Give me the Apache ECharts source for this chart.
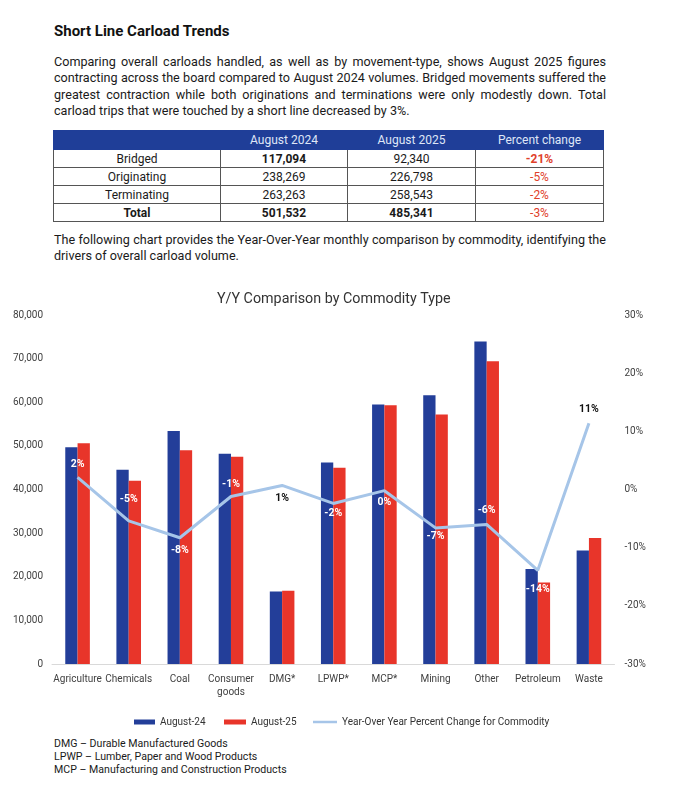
<!DOCTYPE html>
<html>
<head>
<meta charset="utf-8">
<script src="https://cdn.jsdelivr.net/npm/echarts@6/dist/echarts.min.js"></script>
<style>
  html, body { margin: 0; padding: 0; background: #fff; }
  body { width: 694px; height: 793px; position: relative; overflow: hidden; font-family: Roboto, "Liberation Sans", Arial, sans-serif; color: #1a1a1a; }
  .abs { position: absolute; }
  #title { left: 54px; top: 22px; font-size: 15px; font-weight: 700; color: #111; }
  .para { left: 54px; width: 552px; font-size: 12.6px; line-height: 16.3px; }
  .para .j { text-align: justify; text-align-last: justify; }
  table { position: absolute; left: 53px; top: 130px; border-collapse: collapse; font-size: 12px; }
  td, th { border: 1px solid #555; padding: 0; text-align: center; height: 17px; line-height: 16px; }
  th { background: #1f3e98; color: #dfe6f7; font-weight: 400; height: 18px; border-color: #1f3e98; }
  .red { color: #e0402a; }
  .b { font-weight: 700; }
  #chart { position: absolute; left: 0; top: 280px; width: 694px; height: 455px; }
  #notes { left: 54px; top: 737px; font-size: 10.6px; line-height: 13.2px; color: #1a1a1a; }
</style>
</head>
<body>
<div id="title" class="abs">Short Line Carload Trends</div>
<div class="abs para" style="top:54px;">
  <div class="j">Comparing overall carloads handled, as well as by movement-type, shows August 2025 figures</div>
  <div class="j">contracting across the board compared to August 2024 volumes. Bridged movements suffered the</div>
  <div class="j">greatest contraction while both originations and terminations were only modestly down. Total</div>
  <div>carload trips that were touched by a short line decreased by 3%.</div>
</div>
<table>
  <tr><th style="width:166px;"></th><th style="width:126px;">August 2024</th><th style="width:127px;">August 2025</th><th style="width:127px;">Percent change</th></tr>
  <tr><td>Bridged</td><td class="b">117,094</td><td>92,340</td><td class="red b">-21%</td></tr>
  <tr><td>Originating</td><td>238,269</td><td>226,798</td><td class="red">-5%</td></tr>
  <tr><td>Terminating</td><td>263,263</td><td>258,543</td><td class="red">-2%</td></tr>
  <tr><td class="b">Total</td><td class="b">501,532</td><td class="b">485,341</td><td class="red">-3%</td></tr>
</table>
<div class="abs para" style="top:232px;">
  <div class="j">The following chart provides the Year-Over-Year monthly comparison by commodity, identifying the</div>
  <div>drivers of overall carload volume.</div>
</div>
<div id="chart"></div>
<div id="notes" class="abs">
  <div>DMG – Durable Manufactured Goods</div>
  <div>LPWP – Lumber, Paper and Wood Products</div>
  <div>MCP – Manufacturing and Construction Products</div>
</div>
<script>
// ---- data ----
const categories = ['Agriculture', 'Chemicals', 'Coal', 'Consumer\ngoods', 'DMG*', 'LPWP*', 'MCP*', 'Mining', 'Other', 'Petroleum', 'Waste'];
const aug24 = [49700, 44500, 53400, 48200, 16600, 46200, 59500, 61600, 73900, 21800, 26000];
const aug25 = [50600, 42000, 49000, 47500, 16800, 45000, 59300, 57200, 69400, 18700, 28900];
const yoyPct = [2.1, -5.4, -8.3, -1.2, 0.7, -2.4, -0.2, -6.6, -6.0, -13.9, 11.4];
const leftTicks = { min: 0, max: 80000, interval: 10000 };
const rightTicks = { min: -30, max: 30, interval: 10 };

// ---- label styling (kept apart from data) ----
const labelSide = ['top', 'top', 'bottom', 'top', 'bottom', 'bottom', 'bottom', 'bottom', 'top', 'bottom', 'top'];
const labelGap = [7, 16, 7, 7, 7, 4, 6, 3, 8, 13, 8];
const labelColor = ['#fff', '#fff', '#fff', '#fff', '#111', '#fff', '#fff', '#fff', '#fff', '#fff', '#111'];

const FONT = 'Roboto, "Liberation Sans", Arial, sans-serif';
const LINE_COLOR = '#a6c5e8';
const lineData = yoyPct.map((v, i) => ({
  value: v,
  label: { position: labelSide[i], distance: labelGap[i], color: labelColor[i] }
}));

const chart = echarts.init(document.getElementById('chart'));
chart.setOption({
  animation: false,
  textStyle: { fontFamily: FONT },
  title: {
    text: 'Y/Y Comparison by Commodity Type',
    left: 212, top: 7,
    textStyle: { fontSize: 14.3, fontWeight: 400, color: '#333', fontFamily: FONT }
  },
  legend: [
    { data: [{ name: 'August-24', icon: 'rect' }], left: 129, top: 432, itemWidth: 21, itemHeight: 5, itemGap: 0,
      textStyle: { fontSize: 10, color: '#333' } },
    { data: [{ name: 'August-25', icon: 'rect' }], left: 219, top: 432, itemWidth: 22, itemHeight: 5, itemGap: 0,
      textStyle: { fontSize: 10, color: '#333' } },
    { data: [{ name: 'Year-Over Year Percent Change for Commodity', icon: 'path://M0,0 L24,0 L24,2.5 L0,2.5 Z',
        itemStyle: { color: LINE_COLOR } }],
      left: 308, top: 432, itemWidth: 24, itemHeight: 5, itemGap: 0,
      textStyle: { fontSize: 10, color: '#333' } }
  ],
  grid: { left: 52, right: 79.5, top: 35, bottom: 71, containLabel: false },
  xAxis: {
    type: 'category',
    data: categories,
    axisLine: { lineStyle: { color: '#d9d9d9', width: 1 } },
    axisTick: { show: false },
    axisLabel: { color: '#404040', fontSize: 10, margin: 9, lineHeight: 13, interval: 0 }
  },
  yAxis: [
    {
      type: 'value', min: leftTicks.min, max: leftTicks.max, interval: leftTicks.interval,
      splitLine: { show: false }, axisLine: { show: false }, axisTick: { show: false },
      axisLabel: { color: '#404040', fontSize: 10, margin: 9,
        formatter: v => v.toLocaleString('en-US') }
    },
    {
      type: 'value', min: rightTicks.min, max: rightTicks.max, interval: rightTicks.interval,
      splitLine: { show: false }, axisLine: { show: false }, axisTick: { show: false },
      axisLabel: { color: '#404040', fontSize: 10, margin: 10, formatter: '{value}%' }
    }
  ],
  series: [
    { name: 'August-24', type: 'bar', data: aug24, barWidth: 12.3, barGap: '0%',
      itemStyle: { color: '#233e99' } },
    { name: 'August-25', type: 'bar', data: aug25, barWidth: 12.3, barGap: '0%',
      itemStyle: { color: '#e8352a' } },
    { name: 'Year-Over Year Percent Change for Commodity', type: 'line', yAxisIndex: 1,
      data: lineData, symbol: 'circle', symbolSize: 0.1, showSymbol: true, z: 5,
      lineStyle: { color: LINE_COLOR, width: 3 },
      itemStyle: { color: LINE_COLOR },
      label: { show: true, fontSize: 10.5, fontWeight: 700,
        formatter: p => Math.round(p.value) + '%' }
    }
  ]
});
</script>
</body>
</html>
